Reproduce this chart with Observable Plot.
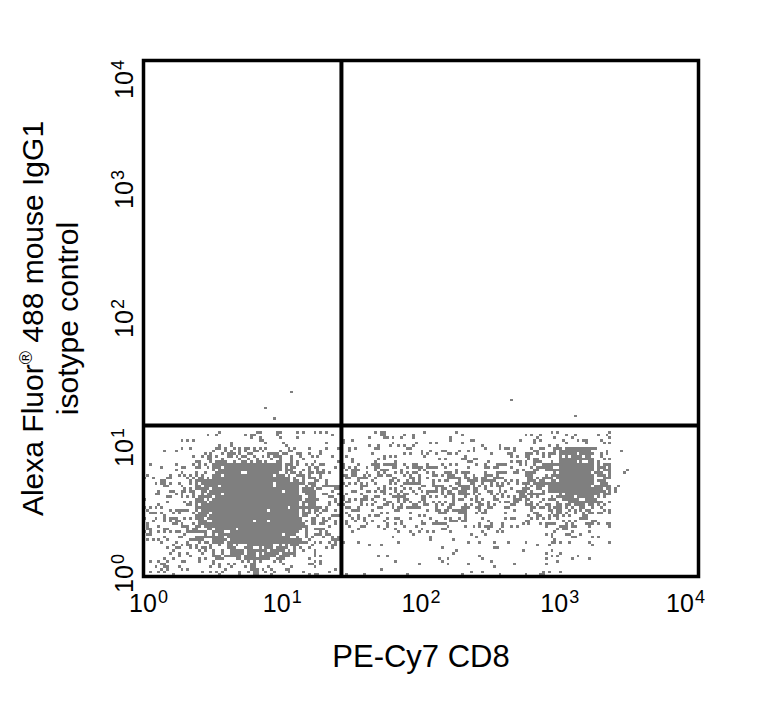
<!DOCTYPE html>
<html><head><meta charset="utf-8">
<script src="https://cdn.jsdelivr.net/npm/d3@7"></script>
<script src="https://cdn.jsdelivr.net/npm/@observablehq/plot@0.6"></script>
<style>
html,body{margin:0;padding:0;background:#fff;}
svg{display:block;}
</style></head><body><div id="chart"></div>
<script>
// ---- axis content ----
const xTicks = [1, 10, 100, 1000, 10000];
const yTicks = [1, 10, 100, 1000, 10000];
const xTitle = "PE-Cy7 CD8";
const yTitleLines = ["Alexa Fluor® 488 mouse IgG1", "isotype control"];
// ---- quadrant gates ----
const xGate = [26.7];
const yGate = [14.8];
// ---- event density ----
// bins of 1/8 decade; row 0 = bottom (10^0..10^0.125), column 0 = left (10^0..10^0.125)
// values are density levels 0..9 (see levelFraction)
const densityRows = [
  [2,2,3,3,4,4,5,4,3,3,2, 1, 1,1,1,1,1, 1,1,1,1,1, 1,1,1,0,0,0],
  [2,3,4,4,6,7,7,7,6,4,3, 1, 1,1,1,1,1, 1,1,1,1,1, 1,2,2,1,0,0],
  [3,4,5,6,8,9,9,9,8,5,4, 3, 2,2,2,2,2, 2,2,2,2,2, 2,3,3,3,1,0],
  [3,4,5,7,9,9,9,9,9,7,4, 4, 4,4,4,4,4, 4,4,4,4,4, 4,5,5,5,3,0],
  [3,4,5,8,9,9,9,9,9,8,5, 5, 5,5,5,5,5, 5,5,5,5,5, 5,6,7,7,4,0],
  [3,4,5,7,9,9,9,9,9,7,5, 5, 5,5,5,5,5, 6,6,6,6,6, 6,7,9,9,7,2],
  [2,3,4,5,8,9,9,9,7,5,4, 5, 5,5,5,5,5, 5,5,5,5,5, 5,7,9,9,7,2],
  [1,2,2,3,5,6,6,6,5,3,3, 3, 3,3,3,3,3, 3,3,3,3,3, 4,5,8,8,5,1],
  [0,0,1,1,2,2,3,3,3,2,2, 2, 2,2,2,2,2, 2,2,2,2,2, 2,3,4,4,2,0]
];
const levelFraction = [0, 0.04, 0.09, 0.16, 0.25, 0.36, 0.5, 0.68, 0.85, 0.97];
// isolated events
const outlierX = [11.9, 7.8, 8.8, 457, 1298];
const outlierY = [27.2, 19.7, 16.5, 23.6, 17.1];

const SUB = 6;          // display channels per density bin
const CH = SUB * 8;     // display channels per decade

// deterministic dither threshold for placing events inside a bin
function ditherThreshold(gx, gy) {
  let n = (gy * 1031 + gx * 7919 + 12345) | 0;
  n = Math.imul(n ^ (n >>> 16), 0x45d9f3b);
  n = Math.imul(n ^ (n >>> 16), 0x45d9f3b);
  n = n ^ (n >>> 16);
  return (n >>> 0) / 4294967296;
}

const cells = [];
densityRows.forEach((row, r) => row.forEach((level, c) => {
  const f = levelFraction[level];
  if (!f) return;
  for (let j = 0; j < SUB; j++) for (let i = 0; i < SUB; i++) {
    const gx = c * SUB + i, gy = r * SUB + j;
    if (ditherThreshold(gx, gy) < f) cells.push({gx, gy});
  }
}));
outlierX.forEach((x, k) => cells.push({gx: Math.floor(Math.log10(x) * CH), gy: Math.floor(Math.log10(outlierY[k]) * CH)}));

const fmt = d => "10^" + Math.round(Math.log10(d));

const plot = Plot.plot({
  width: 761,
  height: 720,
  marginLeft: 143,
  marginRight: 63,
  marginTop: 60,
  marginBottom: 144,
  style: {fontFamily: "'Liberation Sans', Arial, sans-serif", fontSize: "25px", background: "#fff", color: "#000"},
  x: {type: "log", domain: [1, 10000]},
  y: {type: "log", domain: [1, 10000]},
  marks: [
    Plot.rect(cells, {
      x1: d => 10 ** (d.gx / CH), x2: d => 10 ** ((d.gx + 1) / CH),
      y1: d => 10 ** (d.gy / CH), y2: d => 10 ** ((d.gy + 1) / CH),
      fill: "#7f7f7f", shapeRendering: "crispEdges"
    }),
    Plot.ruleX(xGate, {stroke: "#000", strokeWidth: 4}),
    Plot.ruleY(yGate, {stroke: "#000", strokeWidth: 4}),
    Plot.frame({stroke: "#000", strokeWidth: 3.5}),
    Plot.axisX(xTicks, {tickSize: 0, tickPadding: 18, tickFormat: fmt, label: null, fill: "#000"}),
    Plot.axisY(yTicks, {tickSize: 0, tickPadding: 11, tickRotate: -90, tickFormat: fmt, label: null, fill: "#000"}),
    Plot.text([xTitle], {frameAnchor: "bottom", dy: 90, lineAnchor: "bottom", textAnchor: "middle", fontSize: 31, fill: "#000"}),
    Plot.text([yTitleLines.join("\n")], {frameAnchor: "left", dx: -66, rotate: -90, lineAnchor: "bottom", lineHeight: 1.15, textAnchor: "middle", fontSize: 30, fill: "#000"})
  ]
});
document.getElementById("chart").appendChild(plot);

// superscript exponents on tick labels
const NS = "http://www.w3.org/2000/svg";
plot.querySelectorAll("text").forEach(t => {
  const m = /^10\^(\d)$/.exec(t.textContent);
  if (!m) return;
  t.textContent = "10";
  const s = document.createElementNS(NS, "tspan");
  s.setAttribute("font-size", "18px");
  s.setAttribute("dy", "-9");
  s.setAttribute("dx", "1");
  s.textContent = m[1];
  t.appendChild(s);
  const g = t.parentNode && t.parentNode.getAttribute("aria-label") || "";
  if (g.startsWith("x-axis")) {
    if (m[1] === "0") t.setAttribute("dx", "5");
    if (m[1] === "4") t.setAttribute("dx", "-13");
  } else if (g.startsWith("y-axis")) {
    if (m[1] === "0") t.setAttribute("dx", "3");
    if (m[1] === "4") t.setAttribute("dx", "-19");
  }
});
// superscript registered mark in y title
plot.querySelectorAll("tspan").forEach(t => {
  if (!t.textContent.includes("®")) return;
  const [a, b] = t.textContent.split("®");
  t.textContent = a;
  const r = document.createElementNS(NS, "tspan");
  r.setAttribute("font-size", "18px");
  r.setAttribute("dy", "-11");
  r.textContent = "®";
  const rest = document.createElementNS(NS, "tspan");
  rest.setAttribute("dy", "11");
  rest.textContent = b;
  t.appendChild(r);
  t.appendChild(rest);
});
</script>
</body></html>
